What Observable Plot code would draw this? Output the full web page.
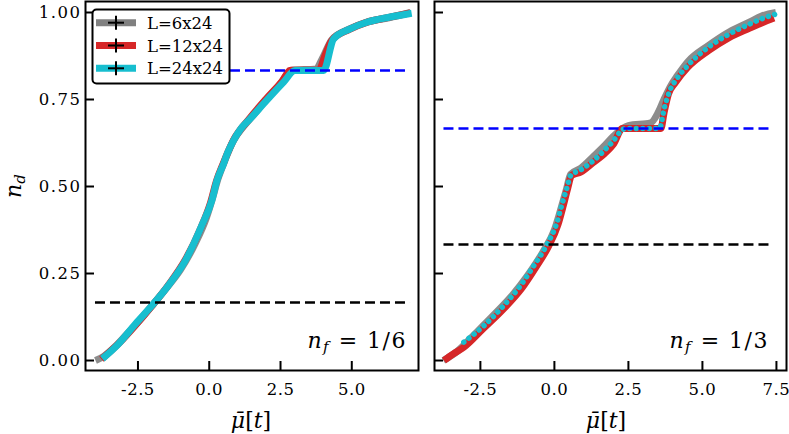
<!DOCTYPE html>
<html><head><meta charset="utf-8">
<script src="https://cdn.jsdelivr.net/npm/d3@7"></script>
<script src="https://cdn.jsdelivr.net/npm/@observablehq/plot@0.6"></script>
<style>
body{margin:0;background:#fff;}
#wrap{position:relative;width:789px;height:434px;overflow:hidden;background:#fff;}
#wrap svg{position:absolute;top:0;}
#wrap svg.plot g[aria-label="y-axis tick label"] text{letter-spacing:1.5px;}
#wrap svg.plot g[aria-label="x-axis tick label"] text{letter-spacing:0.5px;}
</style></head><body><div id="wrap"></div>
<script>
// ---------- data ----------
const seriesNames = ["L=6x24", "L=12x24", "L=24x24"];
const xTicksLeft = [-2.5, 0, 2.5, 5];
const xTicksRight = [-2.5, 0, 2.5, 5, 7.5];
const yTicks = [0, 0.25, 0.5, 0.75, 1];
const panelLabels = ["1/6", "1/3"];

// left panel, n_f = 1/6
const leftGrayX = [-3.99,-3.7,-3.3,-2.9,-2.5,-2.0,-1.5,-1.0,-0.5,-0.1,0.1,0.3,0.55,0.85,1.2,1.6,2.0,2.45,2.9,3.75,3.95,4.3,4.9,5.5,6.3,7.06];
const leftGrayY = [0.0,0.012,0.04,0.075,0.11,0.158,0.208,0.262,0.335,0.41,0.462,0.52,0.575,0.632,0.672,0.71,0.75,0.79,0.834,0.838,0.865,0.922,0.952,0.972,0.985,1.0];
const leftRedX = [-3.78,-3.5,-3.1,-2.6,-2.0,-1.45,-0.85,-0.3,0.05,0.25,0.5,0.85,1.4,2.0,2.55,2.85,3.85,4.05,4.3,4.9,5.5,6.3,7.05];
const leftRedY = [0.004,0.024,0.055,0.1,0.158,0.215,0.288,0.38,0.455,0.515,0.568,0.633,0.694,0.752,0.802,0.834,0.834,0.875,0.92,0.951,0.971,0.986,0.999];
const leftCyanX = [-3.75,-3.18,-2.59,-2.01,-1.43,-0.84,-0.26,0.09,0.27,0.5,0.65,0.85,1.1,1.44,2.02,2.61,3.01,4.01,4.36,4.94,5.53,6.34,7.1];
const leftCyanY = [0.005,0.048,0.105,0.158,0.216,0.287,0.388,0.46,0.517,0.565,0.598,0.632,0.665,0.695,0.748,0.8,0.833,0.833,0.924,0.953,0.972,0.987,0.998];
const leftLevels = [1/6, 5/6];
const leftLevelSpan = [-3.99, 7.06];

// right panel, n_f = 1/3
const rightGrayX = [-3.75,-3.3,-2.7,-2.0,-1.4,-0.9,-0.4,0.0,0.2,0.4,0.55,0.9,1.3,1.7,2.0,2.3,2.5,3.25,3.5,3.7,3.9,4.15,4.5,5.2,5.9,6.6,7.0,7.48];
const rightGrayY = [0.0,0.025,0.075,0.135,0.19,0.245,0.31,0.375,0.43,0.49,0.535,0.553,0.585,0.618,0.645,0.667,0.675,0.683,0.712,0.75,0.785,0.818,0.858,0.905,0.944,0.973,0.99,1.0];
const rightRedX = [-3.73,-3.4,-3.06,-2.4,-1.7,-1.1,-0.65,-0.2,0.12,0.3,0.45,0.58,0.9,1.3,1.7,2.0,2.3,3.6,3.7,3.85,4.1,4.5,5.2,5.9,6.6,7.0,7.42];
const rightRedY = [0.0,0.02,0.038,0.092,0.15,0.208,0.265,0.328,0.39,0.445,0.495,0.532,0.542,0.568,0.595,0.622,0.667,0.667,0.71,0.765,0.8,0.842,0.89,0.928,0.955,0.97,0.984];
const rightCyanX = [-3.06,-2.38,-1.71,-1.14,-0.69,-0.24,0.09,0.26,0.43,0.55,0.89,1.33,1.7,2.0,2.25,2.4,3.55,3.72,3.9,4.13,4.53,5.2,5.88,6.55,7.1,7.55];
const rightCyanY = [0.053,0.1,0.158,0.216,0.273,0.335,0.397,0.45,0.498,0.532,0.548,0.575,0.605,0.632,0.66,0.667,0.667,0.728,0.776,0.809,0.85,0.9,0.937,0.965,0.985,0.997];
const rightLevels = [1/3, 2/3];
const rightLevelSpan = [-3.73, 7.34];

// ---------- styles ----------
const colors = ["#808080", "#d62728", "#17becf"];
const levelColors = ["black", "blue"];
const FONT = "DejaVu Serif";

function curve(xs, ys, color, extra = {}) {
  return Plot.line({length: xs.length}, {x: xs, y: ys, stroke: color, strokeWidth: 7,
    curve: "monotone-x", strokeLinejoin: "round", strokeLinecap: "butt", ...extra});
}
function levels(vals, span) {
  return vals.map((v, i) => Plot.ruleY([v], {y: d => d, x1: () => span[0], x2: () => span[1],
    stroke: levelColors[i], strokeWidth: 2.5, strokeDasharray: "10,5"}));
}

function panel({width, ml, mr, xdom, xticks, showY, series, lv, span, dotted}) {
  const marks = [
    curve(series[0][0], series[0][1], colors[0], {strokeOpacity: 0.9}),
    curve(series[1][0], series[1][1], colors[1]),
    dotted
      ? curve(series[2][0], series[2][1], colors[2], {strokeWidth: 5.5, strokeLinecap: "round", strokeDasharray: "0.01,6.5"})
      : curve(series[2][0], series[2][1], colors[2]),
    ...levels(lv, span),
    Plot.frame({stroke: "black", strokeWidth: 2}),
    Plot.axisX({ticks: xticks, tickFormat: d => d.toFixed(1), tickSize: -9, tickPadding: 22,
      strokeWidth: 2, fontSize: 16.5, label: null}),
    Plot.axisY({ticks: yTicks, tickFormat: showY ? (d => d.toFixed(2)) : (() => ""), tickSize: -9,
      tickPadding: 13, strokeWidth: 2, fontSize: 16.5, label: null})
  ];
  const svg = Plot.plot({
    width, height: 434, marginLeft: ml, marginRight: mr, marginTop: 1, marginBottom: 64,
    x: {domain: xdom}, y: {domain: [-0.0287, 1.0316]},
    style: {fontFamily: FONT, background: "transparent", overflow: "visible", color: "black"},
    marks
  });
  svg.classList.add("plot");
  return svg;
}

const wrap = document.getElementById("wrap");
const left = panel({width: 420, ml: 85, mr: 2, xdom: [-4.34, 7.34], xticks: xTicksLeft, showY: true,
  series: [[leftGrayX, leftGrayY], [leftRedX, leftRedY], [leftCyanX, leftCyanY]],
  lv: leftLevels, span: leftLevelSpan, dotted: false});
left.style.left = "0px";
wrap.appendChild(left);

const right = panel({width: 369, ml: 14, mr: 3, xdom: [-4.05, 7.84], xticks: xTicksRight, showY: false,
  series: [[rightGrayX, rightGrayY], [rightRedX, rightRedY], [rightCyanX, rightCyanY]],
  lv: rightLevels, span: rightLevelSpan, dotted: true});
right.style.left = "420px";
wrap.appendChild(right);

// ---------- overlay: axis labels, annotations, legend ----------
const ov = d3.select(wrap).append("svg").attr("width", 789).attr("height", 434)
  .style("left", "0px").style("font-family", FONT).style("overflow", "visible");

// y label n_d
const yl = ov.append("text").attr("transform", "translate(21,186) rotate(-90)")
  .attr("text-anchor", "middle").attr("font-size", 22);
yl.append("tspan").attr("font-style", "italic").text("n");
yl.append("tspan").attr("font-style", "italic").attr("font-size", 15).attr("dy", 4).text("d");

// x labels
[251, 606].forEach(cx => {
  const t = ov.append("text").attr("x", cx).attr("y", 428).attr("text-anchor", "middle").attr("font-size", 22);
  t.append("tspan").attr("font-style", "italic").text("\u03BC\u0304");
  t.append("tspan").text("[");
  t.append("tspan").attr("font-style", "italic").text("t");
  t.append("tspan").text("]");
});

// panel annotations
[[407, panelLabels[0]], [769, panelLabels[1]]].forEach(([rx, lab]) => {
  const t = ov.append("text").attr("x", rx).attr("y", 348).attr("text-anchor", "end")
    .attr("font-size", 22).style("letter-spacing", "1.5px");
  t.append("tspan").attr("font-style", "italic").text("n");
  t.append("tspan").attr("font-style", "italic").attr("font-size", 15).attr("dy", 4).text("f");
  t.append("tspan").attr("dy", -4).text(" = " + lab);
});

// legend
const lg = ov.append("g");
lg.append("rect").attr("x", 92.5).attr("y", 9.5).attr("width", 137).attr("height", 74).attr("rx", 4)
  .attr("fill", "white").attr("stroke", "black").attr("stroke-width", 2);
seriesNames.forEach((name, i) => {
  const cy = 22.7 + i * 22.8;
  lg.append("line").attr("x1", 96).attr("x2", 136).attr("y1", cy).attr("y2", cy)
    .attr("stroke", colors[i]).attr("stroke-width", 7);
  lg.append("line").attr("x1", 116).attr("x2", 116).attr("y1", cy - 7).attr("y2", cy + 7)
    .attr("stroke", "black").attr("stroke-width", 2);
  lg.append("line").attr("x1", 108).attr("x2", 124).attr("y1", cy).attr("y2", cy)
    .attr("stroke", "black").attr("stroke-width", 2);
  lg.append("text").attr("x", 147).attr("y", cy + 6).attr("font-size", 16.5).text(name);
});
</script></body></html>
